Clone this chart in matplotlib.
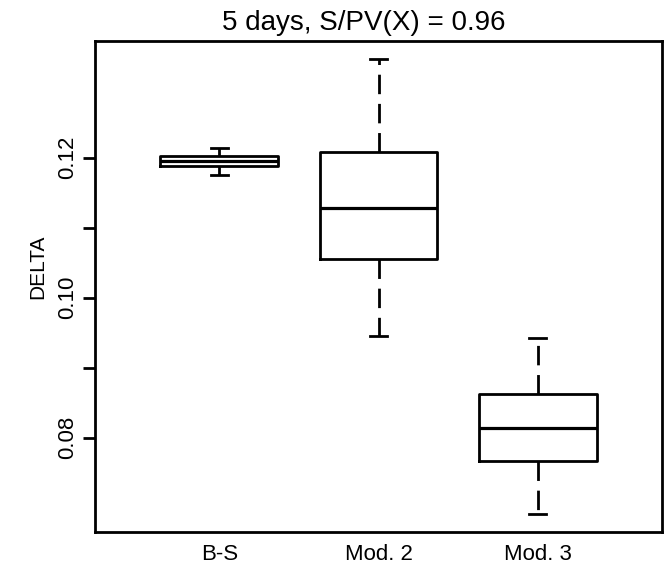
import matplotlib.pyplot as plt

# 箱线图的统计量（须线下端, Q1, 中位数, Q3, 须线上端）
labels = ["B-S", "Mod. 2", "Mod. 3"]
whisker_lo = [0.1176, 0.0945, 0.0691]
q1 = [0.1188, 0.1055, 0.0767]
med = [0.1196, 0.1128, 0.0814]
q3 = [0.1203, 0.1208, 0.0863]
whisker_hi = [0.1214, 0.1341, 0.0942]

yticks = [0.08, 0.09, 0.10, 0.11, 0.12]
ytick_labels = ["0.08", "", "0.10", "", "0.12"]

title = "5 days, S/PV(X) = 0.96"

plt.rcParams['font.family'] = ['Liberation Sans', 'DejaVu Sans']

fig = plt.figure(figsize=(6.67, 5.69), dpi=100)
ax = fig.add_axes([95 / 667, 1 - 532 / 569, 567 / 667, 491 / 569])

stats = []
for i in range(len(labels)):
	stats.append({
		"label": labels[i],
		"whislo": whisker_lo[i],
		"q1": q1[i],
		"med": med[i],
		"q3": q3[i],
		"whishi": whisker_hi[i],
		"fliers": [],
	})

lw = 2.0
ax.bxp(stats, positions=[1, 2, 3], widths=0.74, capwidths=0.107,
	showfliers=False, patch_artist=False,
	boxprops=dict(color="black", linewidth=lw),
	medianprops=dict(color="black", linewidth=lw + 0.3),
	whiskerprops=dict(color="black", linewidth=lw, linestyle=(0, (7, 3.5))),
	capprops=dict(color="black", linewidth=lw))

# 坐标范围：和 R 一样两端各留 4%
lo = min(whisker_lo)
hi = max(whisker_hi)
pad = (hi - lo) * 0.04
ax.set_ylim(lo - pad, hi + pad)
ax.set_xlim(0.22, 3.78)

ax.set_yticks(yticks)
ax.set_yticklabels(ytick_labels, rotation=90, va="center", fontsize=16)
ax.tick_params(axis="y", length=9, width=lw, pad=3)
ax.tick_params(axis="x", length=0, pad=9, labelsize=16)

for s in ax.spines.values():
	s.set_linewidth(lw)

ax.set_ylabel("DELTA", fontsize=15)
# y 轴标题位置（轴坐标）
ax.yaxis.set_label_coords(-0.085, 0.54)
fig.text(364 / 667, 1 - 30 / 569, title, ha="center", va="baseline", fontsize=20)

fig.savefig("out.png", dpi=100)
